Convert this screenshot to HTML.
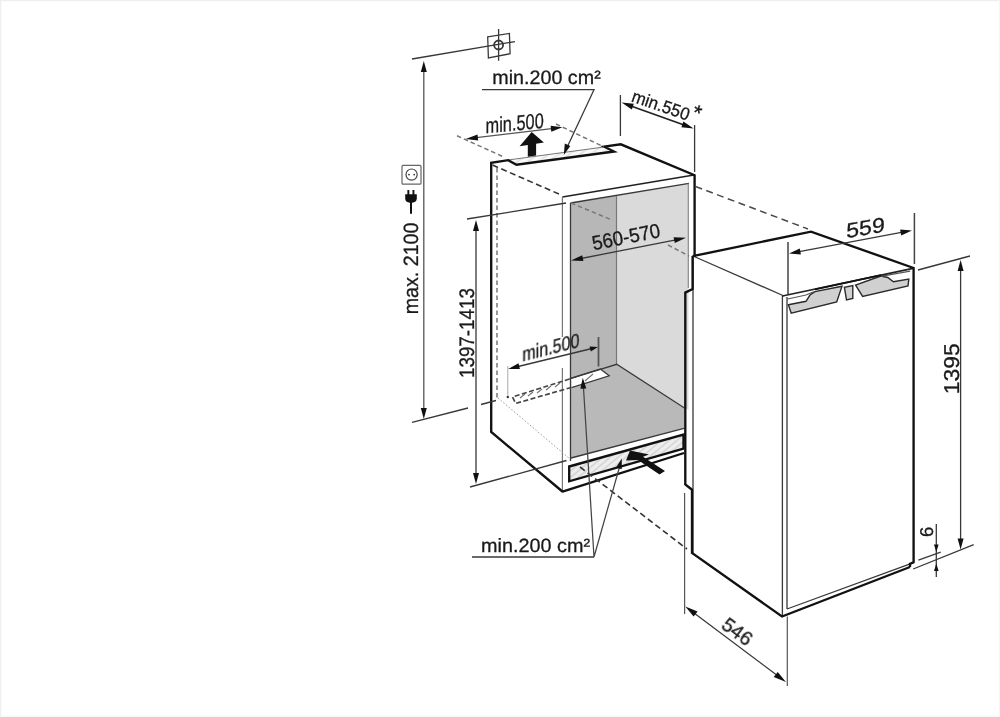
<!DOCTYPE html>
<html><head><meta charset="utf-8"><title>Dimensions</title>
<style>
html,body{margin:0;padding:0;background:#fff;}
body{width:1000px;height:717px;overflow:hidden;}
svg{display:block;}
text{font-family:"Liberation Sans",sans-serif;fill:#1a1a1a;text-rendering:geometricPrecision;stroke:#1a1a1a;stroke-width:0.3px;}
.k{stroke:#111;stroke-width:2.35;fill:none;stroke-linejoin:miter;stroke-linecap:butt;}
.m{stroke:#222;stroke-width:1.7;fill:none;}
.t{stroke:#383838;stroke-width:1.3;fill:none;}
.g{stroke:#777;stroke-width:1.2;fill:none;}
.lg{stroke:#aaa;stroke-width:1;fill:none;}
.dd{stroke:#333;stroke-width:1.6;fill:none;stroke-dasharray:6 3.5;}
.dg{stroke:#777;stroke-width:1.5;fill:none;stroke-dasharray:4.5 3;}
.dt{stroke:#999;stroke-width:1;fill:none;stroke-dasharray:1.5 2;}
.a{fill:#111;stroke:none;}
</style></head>
<body>
<svg width="1000" height="717" viewBox="0 0 1000 717">
<rect width="1000" height="717" fill="#fff"/>
<path d="M0,0.5 H1000 M0.5,0 V717" stroke="#efefef" stroke-width="1.5" fill="none"/><path d="M0,716.5 H1000 M999.5,0 V717" stroke="#f6f6f6" stroke-width="1.5" fill="none"/>

<defs>
<pattern id="hatch" width="5" height="5" patternUnits="userSpaceOnUse" patternTransform="rotate(-40)"><rect width="5" height="5" fill="#eeeeee"/><line x1="0" y1="2.5" x2="5" y2="2.5" stroke="#d0d0d0" stroke-width="1.4"/></pattern>
<pattern id="hatch2" width="6" height="6" patternUnits="userSpaceOnUse" patternTransform="rotate(-35)"><rect width="6" height="6" fill="#fafafa"/><line x1="0" y1="3" x2="6" y2="3" stroke="#e2e2e2" stroke-width="1.5"/></pattern>
</defs>
<!-- ===== niche fills ===== -->
<g id="fills">
<polygon points="571,203 616.5,195.5 616.5,364.5 571,378.5" fill="#b7b7b7"/>
<polygon points="616.5,195.5 688.5,183.5 688.5,410 616.5,364.5" fill="#dadada"/>
<polygon points="571,378.5 616.5,364.5 684.5,408 684.5,428 571,458" fill="#b9b9b9"/>
<polygon points="571,379 600.4,369 609.2,375.8 571.5,387.7" fill="#fff"/>
<polygon points="569.5,467 683.5,435 683.5,448.5 569.5,481" fill="url(#hatch)"/>
<polygon points="508.2,160.2 604.2,146.7 614,151.5 516.5,164.7" fill="url(#hatch2)"/>
</g>

<!-- ===== cabinet ===== -->
<g id="cabinet">
<line class="g" x1="508" y1="160" x2="604" y2="147"/>
<path class="m" d="M562.4,197 L694,175"/><path class="g" d="M562.4,197 V337 M562.4,368 V491.5"/><path class="t" d="M570.5,203 L689,183.3 M570.5,203 V461"/><path class="g" d="M688.3,183.5 V288" style="stroke:#8a8a8a"/>
<line class="g" x1="616.5" y1="196" x2="616.5" y2="364.5"/>
<path class="t" d="M571,378.5 L616.7,364.3 L684.5,408"/>
<path class="t" d="M569.6,378.6 L600.4,368.9 L609.2,375.8 L571.5,387.7"/>
<line class="g" x1="585" y1="381" x2="593" y2="374"/>
<line class="t" x1="571" y1="458" x2="684" y2="428.3"/>
<path class="k" d="M569.2,466.5 L683.5,434.5 V448.6 L569.2,481.3 Z"/>
<path class="k" d="M563,492 L491.2,432 V162.8 L508.2,160.2 L516.5,164.7 L614,151.5 L604.2,146.7 L620.8,144.3 L694.6,175.2 V257"/>
<path class="k" d="M562.5,491.6 L684,453"/>
</g>

<!-- ===== hidden / dashed lines ===== -->
<g id="dashed">
<line class="dd" x1="492.5" y1="165" x2="560" y2="194.5"/>
<line class="dg" x1="497" y1="168" x2="497" y2="398"/>
<line class="dg" x1="457" y1="135.8" x2="503" y2="156.6"/>
<line class="dg" x1="556" y1="124" x2="604" y2="147"/>
<line class="dd" x1="695.5" y1="186.5" x2="808" y2="229" style="stroke:#4a4a4a;stroke-dasharray:7 4.5;stroke-width:1.5"/>
<line class="dg" x1="668" y1="245" x2="689" y2="256"/>
<line class="dg" x1="571" y1="203" x2="612" y2="220"/>
<line class="dt" x1="498" y1="398" x2="570" y2="459"/>
<line class="dd" x1="580" y1="467" x2="687" y2="549"/>
<path class="dd" style="stroke-dasharray:5 2.5;stroke:#444;stroke-width:1.7" d="M569.6,379 L512.5,397 L515.7,403.4 L570.3,387.7"/>
<path class="g" d="M520,398 l5,-4 M528,396 l5,-4 M537,393 l5,-4 M546,390 l5,-4 M555,387 l5,-4"/>
</g>

<!-- ===== fridge ===== -->
<g id="fridge">
<polygon points="788.4,304.8 806,301.3 810,295 815,291.6 842,286.2 836.7,302 791.2,313.2" fill="#d0d0d0" stroke="#2a2a2a" stroke-width="1.4"/>
<polygon points="844.4,287.3 846.5,300 852.8,298.5 852.8,285.6" fill="#d0d0d0" stroke="#2a2a2a" stroke-width="1.4"/>
<polygon points="855.6,285.2 862.6,296.4 908,286 908.8,279 893.4,281.7 887.8,277.5 880.8,276" fill="#d0d0d0" stroke="#2a2a2a" stroke-width="1.4"/>
<path class="g" d="M787.7,299 L806,295 L813.6,291.8 M880.8,276.3 L910.2,271.1" style="stroke:#555"/>
<path class="t" d="M693,256 L784,296"/>
<path class="t" d="M782.4,296 V616 M787,297 V609"/>
<line class="m" x1="782.4" y1="296" x2="913" y2="268.4"/>
<line class="k" x1="815" y1="289.3" x2="881" y2="275.2" style="stroke-width:1.8"/>
<path class="t" d="M787,609 L909.5,564.2"/>
<line class="t" x1="693" y1="257" x2="693" y2="553"/>
<path class="k" d="M692.6,256.2 L811,231.6 L913.6,268 V562.3 L910,563.8 V567"/>
<path class="k" d="M692.6,256 V289 L685.3,292.6 V484.5 L692,489.7 V553 L782,616.5 L910,567"/>
</g>

<!-- ===== dimensions ===== -->
<g id="dims">
<!-- max 2100 -->
<line class="t" x1="412" y1="59" x2="515" y2="41.6"/>
<path class="t" d="M487.7,36.9 L509.4,33.4 L510.1,53.7 L488.4,57.9 Z M498.6,29 V60.7"/>
<circle class="t" cx="498.6" cy="45" r="4.5" style="stroke-width:1.8"/>
<line class="g" x1="423.8" y1="66" x2="423.8" y2="414" style="stroke:#555;stroke-width:1.3"/>
<polygon class="a" points="423.8,61 420.8,72 426.8,72"/>
<polygon class="a" points="423.8,419 420.8,408 426.8,408"/>
<path class="t" d="M412,422.4 L468,408 M481,404.5 L496,400.5"/>
<!-- 1397-1413 -->
<line class="t" x1="467" y1="219" x2="566" y2="203"/>
<line class="t" x1="476" y1="225" x2="476" y2="479"/>
<polygon class="a" points="476,220 473,231 479,231"/>
<polygon class="a" points="476,484 473,473 479,473"/>
<line class="t" x1="470" y1="487" x2="566.5" y2="460.5"/>
<!-- min.500 top -->
<line class="t" x1="470" y1="138.4" x2="558" y2="127.9" style="stroke:#555;stroke-width:1.15"/>
<polygon class="a" points="465.6,139 477.5,134.4 478.2,140.4"/>
<polygon class="a" points="562.5,127.3 550.6,125.8 551.3,131.8"/>
<!-- min.550 -->
<path class="t" d="M620.4,95 V136 M694.6,125 V172"/>
<line class="m" x1="626" y1="104.2" x2="689" y2="126.8"/>
<polygon class="a" points="621.6,102.6 633.8,103.8 631.8,109.5"/>
<polygon class="a" points="693.6,128.4 681.4,127.2 683.4,121.5"/>
<!-- 560-570 -->
<line class="t" x1="576" y1="259.5" x2="681" y2="238.8"/>
<polygon class="a" points="571,260.5 582.2,255.2 583.4,261.1"/>
<polygon class="a" points="686,237.8 674.8,243.1 673.6,237.2"/>
<!-- min.500 lower -->
<line class="lg" x1="507.8" y1="366" x2="507.8" y2="395.5"/>
<line class="g" x1="598.5" y1="337" x2="598.5" y2="366.5" style="stroke:#555;stroke-width:1.8"/>
<line class="t" x1="512" y1="368" x2="594" y2="348"/>
<polygon class="a" points="508.2,368.9 518.5,363.2 519.9,369.1"/>
<polygon class="a" points="597.9,347 589.6,346.4 590.8,351.5"/>
<circle cx="507.8" cy="397" r="1.2" fill="#333"/>
<!-- 559 -->
<path class="g" d="M788,242 V294 M914.4,213 V264" style="stroke:#444;stroke-width:1.5"/>
<line class="t" x1="794" y1="252.7" x2="908" y2="231.2"/>
<polygon class="a" points="789,253.6 799.8,248.5 800.9,254.4"/>
<polygon class="a" points="912,230.4 901.2,235.5 900.1,229.6"/>
<!-- 1395 -->
<line class="t" x1="918" y1="270" x2="970" y2="256"/>
<line class="t" x1="913.2" y1="569" x2="973.7" y2="544.6"/>
<line class="t" x1="960.6" y1="265" x2="960.6" y2="545"/>
<polygon class="a" points="960.6,260 957.6,271 963.6,271"/>
<polygon class="a" points="960.6,549.5 957.6,538.5 963.6,538.5"/>
<!-- 6 -->
<line class="t" x1="918.4" y1="560.2" x2="940.7" y2="552.2"/>
<line class="t" x1="936.3" y1="524" x2="936.3" y2="577"/>
<polygon class="a" points="936.3,552.2 934,544.5 938.6,544.5"/>
<polygon class="a" points="936.3,563.6 934,571 938.6,571"/>
<!-- 546 -->
<path class="g" d="M684.6,493 V614 M787.3,616.5 V686" style="stroke:#555"/>
<line class="t" x1="689" y1="609.3" x2="782" y2="679"/>
<polygon class="a" points="685.3,606.5 697.6,611.4 693.6,616.6"/>
<polygon class="a" points="786,682 773.7,677.1 777.7,671.9"/>
<!-- labels min.200 -->
<path class="t" d="M482,89.7 H594 L566.3,149"/>
<polygon class="a" points="563.8,155 564.8,143.5 570.3,146"/>
<path class="t" d="M472,557 H594"/><path class="g" style="stroke:#444;stroke-width:1.25" d="M594,557 L583.5,388 M594,557 L619.5,467"/>
<polygon class="a" points="582.8,377.7 580.4,388.8 586.3,388.4"/>
<polygon class="a" points="621.8,458.5 616,467.6 621.7,469.2"/>
</g>

<!-- ===== big arrows ===== -->
<polygon class="a" points="531.7,131.9 543.9,142.6 536.1,143.8 536.1,155.6 527.8,156.8 527.8,145 519.6,146.2"/>
<polygon class="a" points="630,450.5 649,454.5 643,456.8 665,471 659.5,474.5 638,460 626,460.5"/>

<!-- ===== icons ===== -->
<g id="icons">
<rect x="402" y="165.4" width="19" height="18.8" rx="1" fill="#fff" stroke="#666" stroke-width="1.2"/>
<circle cx="411.6" cy="174.6" r="5.6" fill="none" stroke="#444" stroke-width="1.2"/>
<circle cx="409" cy="174.6" r="0.9" fill="#333"/><circle cx="414.2" cy="174.6" r="0.9" fill="#333"/>
<path class="a" d="M407.4,190 h1.9 v4.3 h3.2 v-4.3 h1.9 v4.3 h2.4 v4.2 q0,3.8 -4.8,4.3 v11 h-2 v-11 q-4.8,-0.5 -4.8,-4.3 v-4.2 h2.2 z"/>
</g>

<!-- ===== text ===== -->
<g id="texts" opacity="0.999">
<text x="0" y="0" font-size="19.4" textLength="108.4" lengthAdjust="spacingAndGlyphs" transform="translate(492.3,83.8)">min.200 cm²</text>
<text x="0" y="0" font-size="19.2" textLength="109" lengthAdjust="spacingAndGlyphs" transform="translate(481,552)">min.200 cm²</text>
<text x="0" y="0" font-size="21.5" transform="matrix(0.76,-0.069,0,1,485.6,133.2)">min.500</text>
<text x="0" y="0" font-size="20" transform="matrix(0.80,-0.204,0,1,522.4,361.4)">min.500</text>
<text x="0" y="0" font-size="17.6" transform="translate(630.5,101.3) rotate(18.8) scale(0.96,1)">min.550</text>
<text x="0" y="0" font-size="22" transform="translate(690.6,118.6) rotate(18.8)">*</text>
<text x="0" y="0" font-size="20.2" transform="translate(593.6,250.3) rotate(-11.1) scale(0.93,1)">560-570</text>
<text x="0" y="0" font-size="21" transform="matrix(1.1,-0.19,0,1,846.2,238.2)">559</text>
<text x="0" y="0" font-size="19.6" text-anchor="middle" transform="translate(733.3,637) rotate(36.5)">546</text>
<text x="0" y="0" font-size="20.7" transform="translate(417.9,314.3) rotate(-90) scale(0.95,1)">max. 2100</text>
<text x="0" y="0" font-size="21" transform="translate(474,378) rotate(-90) scale(0.895,1)">1397-1413</text>
<text x="0" y="0" font-size="21.5" transform="translate(958.8,394.3) rotate(-90) scale(1.07,1)">1395</text>
<text x="0" y="0" font-size="18.5" transform="translate(933.4,537) rotate(-90)">6</text>
</g>
</svg>
</body></html>
